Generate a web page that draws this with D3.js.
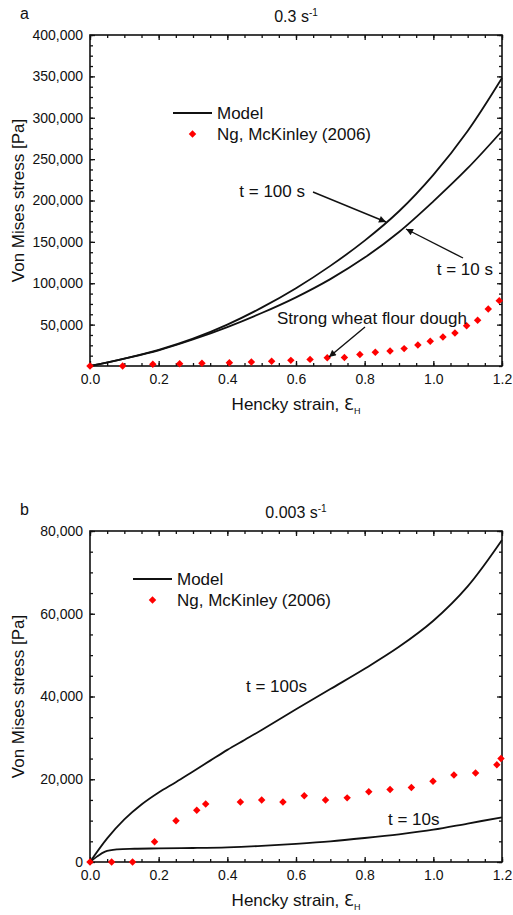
<!DOCTYPE html>
<html><head><meta charset="utf-8">
<script src="https://cdn.jsdelivr.net/npm/d3@7"></script>
<style>
body{margin:0;background:#fff;}
svg text{font-family:"Liberation Sans",Arial,Helvetica,sans-serif;fill:#111;}
</style></head>
<body><svg id="c" width="513" height="915"></svg>
<script>
// ---------- data ----------
const xTicks = [0, 0.2, 0.4, 0.6, 0.8, 1.0, 1.2];
const xTickLabels = ["0.0","0.2","0.4","0.6","0.8","1.0","1.2"];

// Panel a (0.3 s^-1)
const aYTicks = [50000,100000,150000,200000,250000,300000,350000,400000];
const aModelStrain = [0,0.1,0.2,0.3,0.4,0.5,0.6,0.7,0.8,0.9,1.0,1.1,1.2];
const aModel100 = [0,9000,19500,33000,50000,70500,94000,121000,151500,187000,231000,284000,348000];
const aModel10  = [0,9000,19000,32000,47000,64000,83000,105000,131000,162000,199000,239000,284000];
const aExpStrain = [0,0.095,0.183,0.261,0.326,0.406,0.470,0.529,0.585,0.641,0.691,0.741,0.786,0.831,0.874,0.915,0.955,0.991,1.028,1.063,1.097,1.129,1.160,1.192];
const aExpStress = [0,0,2000,2800,3200,4000,4800,5600,6800,8000,10000,10400,14000,16500,18000,21000,25400,29800,35000,39900,48700,55200,68900,79000];

// Panel b (0.003 s^-1)
const bYTicks = [0,20000,40000,60000,80000];
const bModelStrain100 = [0,0.05,0.1,0.15,0.2,0.25,0.3,0.35,0.4,0.45,0.5,0.6,0.7,0.8,0.9,1.0,1.1,1.2];
const bModel100 = [0,5700,10300,13900,16800,19300,21900,24500,27100,29500,31900,36900,41800,46700,52000,58300,66600,77800];
const bModelStrain10 = [0,0.02,0.044,0.08,0.13,0.2,0.3,0.4,0.5,0.6,0.7,0.8,0.9,1.0,1.1,1.2];
const bModel10 = [0,1300,2500,3050,3200,3280,3380,3550,3900,4400,5000,5800,6700,7800,9300,10800];
const bExpStrain = [0,0.063,0.124,0.188,0.2505,0.311,0.337,0.438,0.500,0.562,0.624,0.686,0.749,0.812,0.874,0.936,0.999,1.060,1.123,1.185,1.197];
const bExpStress = [0,0,0,4900,9980,12480,14000,14500,15000,14500,16000,15000,15500,17000,17500,18000,19500,21000,21500,23500,25000];

// ---------- drawing ----------
const svg = d3.select("#c");
const defs = svg.append("defs");
defs.append("marker").attr("id","arr").attr("viewBox","0 0 10 10").attr("refX",10).attr("refY",5)
  .attr("markerWidth",9).attr("markerHeight",7).attr("markerUnits","userSpaceOnUse").attr("orient","auto")
  .append("path").attr("d","M0,0 L10,5 L0,10 z").attr("fill","#111");

const L = 90, R = 502;

function panel(cfg){
  const g = svg.append("g");
  const x = d3.scaleLinear().domain([0,1.2]).range([L,R]);
  const y = d3.scaleLinear().domain([0,cfg.ymax]).range([cfg.bottom,cfg.top]);
  const minorX = d3.range(0,1.2001,0.05);
  const minorY = d3.range(0,cfg.ymax+1,cfg.yminor);

  // minor ticks
  g.append("g").attr("transform",`translate(0,${cfg.bottom})`).call(d3.axisBottom(x).tickValues(minorX).tickSize(-3).tickFormat(""));
  g.append("g").attr("transform",`translate(0,${cfg.top})`).call(d3.axisTop(x).tickValues(minorX).tickSize(-3).tickFormat(""));
  g.append("g").attr("transform",`translate(${L},0)`).call(d3.axisLeft(y).tickValues(minorY).tickSize(-3).tickFormat(""));
  g.append("g").attr("transform",`translate(${R},0)`).call(d3.axisRight(y).tickValues(minorY).tickSize(-3).tickFormat(""));
  // major ticks
  g.append("g").attr("class","ax").attr("transform",`translate(0,${cfg.bottom})`)
    .call(d3.axisBottom(x).tickValues(xTicks).tickSize(-5).tickPadding(8).tickFormat((d,i)=>xTickLabels[i]));
  g.append("g").attr("transform",`translate(0,${cfg.top})`).call(d3.axisTop(x).tickValues(xTicks).tickSize(-5).tickFormat(""));
  g.append("g").attr("class","ax").attr("transform",`translate(${L},0)`)
    .call(d3.axisLeft(y).tickValues(cfg.yTicks).tickSize(-5).tickPadding(7).tickFormat(d3.format(",")));
  g.append("g").attr("transform",`translate(${R},0)`).call(d3.axisRight(y).tickValues(cfg.yTicks).tickSize(-5).tickFormat(""));
  g.selectAll(".domain").remove();
  g.selectAll(".tick line").attr("stroke","#111").attr("stroke-width",1.3);
  g.selectAll(".ax text").attr("font-size",14).attr("fill","#222");

  g.append("rect").attr("x",L).attr("y",cfg.top).attr("width",R-L).attr("height",cfg.bottom-cfg.top)
    .attr("fill","none").attr("stroke","#111").attr("stroke-width",1.6);

  // model lines
  const line = d3.line().x(d=>x(d[0])).y(d=>y(d[1])).curve(d3.curveCatmullRom.alpha(0.5));
  cfg.models.forEach(m=>{
    g.append("path").datum(m.xs.map((v,i)=>[v,m.ys[i]])).attr("d",line)
      .attr("fill","none").attr("stroke","#111").attr("stroke-width",1.8);
  });
  // experimental points
  const sym = d3.symbol().type(d3.symbolSquare).size(28);
  g.selectAll(".pt").data(cfg.expX.map((v,i)=>[v,cfg.expY[i]])).join("path")
    .attr("d",sym).attr("fill","#f00")
    .attr("transform",d=>`translate(${x(d[0])},${y(d[1])}) rotate(45)`);

  // titles
  g.append("text").attr("x",20).attr("y",cfg.top-16).attr("font-size",16).text(cfg.letter);
  const t = g.append("text").attr("x",296).attr("y",cfg.top-13).attr("text-anchor","middle").attr("font-size",16);
  t.append("tspan").text(cfg.rate+" s");
  t.append("tspan").attr("dy",-6).attr("font-size",10).text("-1");
  g.append("text").attr("transform",`translate(24,${(cfg.top+cfg.bottom)/2}) rotate(-90)`)
    .attr("text-anchor","middle").attr("font-size",17).text("Von Mises stress [Pa]");
  const xt = g.append("text").attr("x",296).attr("y",cfg.bottom+44).attr("text-anchor","middle").attr("font-size",17);
  xt.append("tspan").text("Hencky strain, ");
  xt.append("tspan").attr("font-family","DejaVu Sans").attr("font-size",16).text("Ɛ");
  xt.append("tspan").attr("dy",4).attr("font-size",9).text("H");

  // legend
  const lg = cfg.legend;
  g.append("line").attr("x1",lg.x1).attr("x2",lg.x2).attr("y1",lg.y).attr("y2",lg.y).attr("stroke","#111").attr("stroke-width",1.8);
  g.append("text").attr("x",lg.tx).attr("y",lg.y+6).attr("font-size",17).text("Model");
  g.append("path").attr("d",sym).attr("fill","#f00").attr("transform",`translate(${(lg.x1+lg.x2)/2},${lg.y+21}) rotate(45)`);
  g.append("text").attr("x",lg.tx).attr("y",lg.y+27).attr("font-size",17).text("Ng, McKinley (2006)");

  cfg.notes.forEach(n=>{
    g.append("text").attr("x",n.x).attr("y",n.y).attr("text-anchor",n.anchor||"start").attr("font-size",17).text(n.text);
    if(n.arrow) g.append("line").attr("x1",n.arrow[0]).attr("y1",n.arrow[1]).attr("x2",n.arrow[2]).attr("y2",n.arrow[3])
      .attr("stroke","#111").attr("stroke-width",1.4).attr("marker-end","url(#arr)");
  });
}

panel({letter:"a", rate:"0.3", top:35, bottom:366, ymax:400000, yminor:12500, yTicks:aYTicks,
  models:[{xs:aModelStrain, ys:aModel100},{xs:aModelStrain, ys:aModel10}],
  expX:aExpStrain, expY:aExpStress,
  legend:{x1:173, x2:212, y:113, tx:217},
  notes:[
    {text:"t = 100 s", x:305, y:197, anchor:"end", arrow:[313,192,386,222]},
    {text:"t = 10 s", x:493, y:275, anchor:"end", arrow:[463,258,406,229]},
    {text:"Strong wheat flour dough", x:277, y:324, arrow:[365,327,329,357]}
  ]});

panel({letter:"b", rate:"0.003", top:531, bottom:862, ymax:80000, yminor:5000, yTicks:bYTicks,
  models:[{xs:bModelStrain100, ys:bModel100},{xs:bModelStrain10, ys:bModel10}],
  expX:bExpStrain, expY:bExpStress,
  legend:{x1:133, x2:172, y:579, tx:177},
  notes:[
    {text:"t = 100s", x:246, y:692},
    {text:"t = 10s", x:388, y:825}
  ]});
</script></body></html>
